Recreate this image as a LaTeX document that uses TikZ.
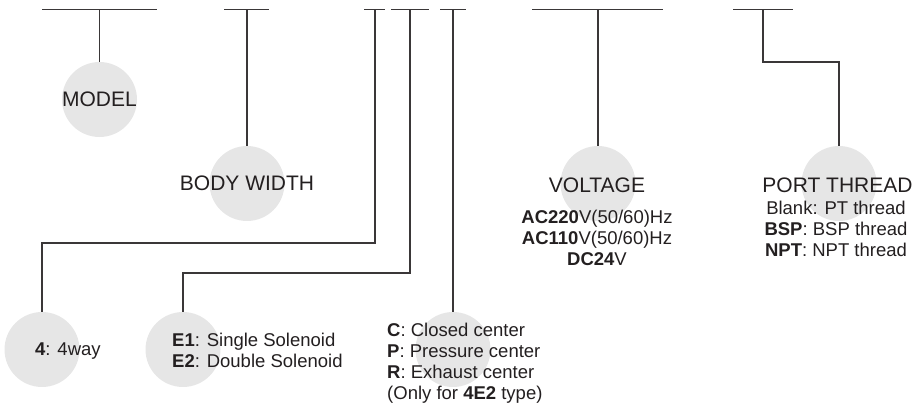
\documentclass[tikz,border=0pt]{standalone}
\usepackage{fontspec}
\setmainfont{Liberation Sans}
\definecolor{discgray}{RGB}{230,230,230}
\definecolor{ink}{RGB}{35,31,32}
\definecolor{wirecol}{RGB}{58,55,56}
\tikzset{
  disc/.style={circle, fill=discgray, minimum size=75pt, inner sep=0pt},
  wire/.style={draw=wirecol, line width=1.1pt},
  title/.style={inner sep=0pt, text=ink, font=\fontsize{21}{25}\selectfont},
  list/.style={inner sep=0pt, text=ink, font=\fontsize{18.5}{21}\selectfont},
}
\begin{document}
\begin{tikzpicture}[x=1pt,y=-1pt]
  \useasboundingbox (0,0) rectangle (914,410);

  \node[disc] (model) at (99.5,99.5) {};
  \node[disc] (width) at (247,183.5) {};
  \node[disc] (way) at (42,349.5) {};
  \node[disc] (sol) at (183,349.5) {};
  \node[disc] (cen) at (453,349.5) {};
  \node[disc] (volt) at (598,183.5) {};
  \node[disc] (port) at (839,183.5) {};

  \coordinate (b1) at (99.5,9.5);
  \coordinate (b2) at (247,9.5);
  \coordinate (b3) at (375,9.5);
  \coordinate (b4) at (410,9.5);
  \coordinate (b5) at (453,9.5);
  \coordinate (b6) at (598,9.5);
  \coordinate (b7) at (763,9.5);

  \foreach \l/\r in {42/157,224/269,364/385,391/429,440/466,532/663,733/793}
    \draw[wire] (\l,9.5) -- (\r,9.5);

  \draw[wire] (b1) -- (model);
  \draw[wire] (b2) -- (width);
  \draw[wire] (b3) -- ++(0,233.5) -| (way);
  \draw[wire] (b4) -- ++(0,263.5) -| (sol);
  \draw[wire] (b5) -- (cen);
  \draw[wire] (b6) -- (volt);
  \draw[wire] (b7) -- ++(0,52.5) -| (port);

  \node[title] (tmodel) at (model) {MODEL};
  \node[title] (twidth) at (247,183) {BODY WIDTH};
  \node[title] (tvolt) at (597,185) {VOLTAGE};
  \node[title] (tport) at (837.5,185) {PORT THREAD};

  \node[list, anchor=base west] (lway) at (35,355.6) {\textbf{4}: 4way};
  \node[list, anchor=north west, align=left] (lsol) at (172,332.4)
    {\textbf{E1}: Single Solenoid\\ \textbf{E2}: Double Solenoid};
  \node[list, anchor=north west, align=left] (lcen) at (387,322.4)
    {\textbf{C}: Closed center\\ \textbf{P}: Pressure center\\
     \textbf{R}: Exhaust center\\ (Only for \textbf{4E2} type)};
  \node[list, anchor=north, align=center] (lvolt) at (597,209.4)
    {\textbf{AC220}V(50/60)Hz\\ \textbf{AC110}V(50/60)Hz\\ \textbf{DC24}V};
  \node[list, anchor=north, align=center] (lport) at (836,200.4)
    {Blank: PT thread\\ \textbf{BSP}: BSP thread\\ \textbf{NPT}: NPT thread};
\end{tikzpicture}
\end{document}
